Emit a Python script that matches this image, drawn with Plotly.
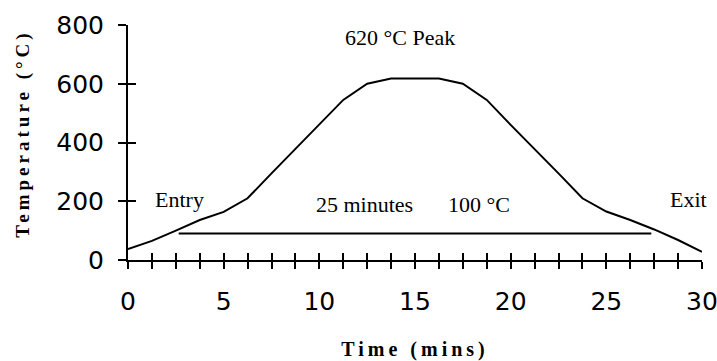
import plotly.graph_objects as go

# ---- data ----
time_min = [0, 1.25, 2.5, 3.75, 5, 6.25, 7.5, 8.75, 10, 11.25, 12.5, 13.75, 15,
            16.25, 17.5, 18.75, 20, 21.25, 22.5, 23.75, 25, 26.25, 27.5, 28.75, 30]
temp_c = [37, 65, 100, 136, 164, 210, 295, 378, 460, 545, 600, 618, 618,
          618, 600, 545, 460, 378, 295, 210, 165, 136, 104, 68, 28]

hold_time = [2.65, 27.35]
hold_temp = [90, 90]

x_tickvals = [0, 1.25, 2.5, 3.75, 5, 6.25, 7.5, 8.75, 10, 11.25, 12.5, 13.75, 15,
              16.25, 17.5, 18.75, 20, 21.25, 22.5, 23.75, 25, 26.25, 27.5, 28.75, 30]
x_ticktext = ["0", "", "", "", "5", "", "", "", "10", "", "", "", "15",
              "", "", "", "20", "", "", "", "25", "", "", "", "30"]
y_tickvals = [0, 200, 400, 600, 800]
y_ticktext = ["0", "200", "400", "600", "800"]

notes_text = ["620 °C Peak", "Entry", "25 minutes", "100 °C", "Exit"]
notes_x = [11.25, 1.3, 9.7, 16.6, 28.2]
notes_y = [758, 207, 188, 188, 205]

x_title = "Time (mins)"
y_title = "Temperature (°C)"

# ---- figure ----
fig = go.Figure()
fig.add_trace(go.Scatter(x=time_min, y=temp_c, mode="lines",
                         line=dict(color="black", width=2), cliponaxis=False,
                         showlegend=False, hoverinfo="skip"))
fig.add_trace(go.Scatter(x=hold_time, y=hold_temp, mode="lines", xaxis="x2", yaxis="y2",
                         line=dict(color="black", width=2), cliponaxis=False,
                         showlegend=False, hoverinfo="skip"))

tickfont = dict(family="DejaVu Sans", size=25, color="black")
titlefont = dict(family="Liberation Serif", size=20, color="black", weight="bold")

common_x = dict(range=[0, 30], tickmode="array", tickvals=x_tickvals, automargin=False,
                showgrid=False, zeroline=False, tickcolor="black", tickwidth=2, ticklen=7)
common_y = dict(range=[0, 800], tickmode="array", tickvals=y_tickvals, automargin=False,
                showgrid=False, zeroline=False, tickcolor="black", tickwidth=2, ticklen=8)

fig.update_layout(
    width=717, height=361,
    margin=dict(l=128, r=15, t=25, b=101, pad=0),
    paper_bgcolor="white", plot_bgcolor="white",
    xaxis=dict(**common_x, ticktext=x_ticktext, ticks="outside",
               showline=True, linecolor="black", linewidth=2,
               tickfont=tickfont, ticklabelstandoff=11, ticklabeloverflow="allow",
               title=dict(text=x_title, font=titlefont, standoff=32)),
    yaxis=dict(**common_y, ticktext=y_ticktext, ticks="outside",
               showline=True, linecolor="black", linewidth=2,
               tickfont=tickfont, ticklabelstandoff=9, ticklabeloverflow="allow",
               title=dict(text=y_title, font=dict(titlefont, size=19), standoff=22)),
    xaxis2=dict(**common_x, overlaying="x", anchor="y2", side="bottom", ticks="inside",
                showticklabels=False, showline=False),
    yaxis2=dict(**common_y, overlaying="y", anchor="x2", side="left", ticks="inside",
                showticklabels=False, showline=False),
)

for t, x, y in zip(notes_text, notes_x, notes_y):
    fig.add_annotation(x=x, y=y, xref="x", yref="y", text=t, showarrow=False,
                       xanchor="left", yanchor="middle",
                       font=dict(family="Liberation Serif", size=22, color="black"))

post = """
document.body.style.margin = '0';
document.body.style.overflow = 'hidden';
var gd = document.querySelector('.plotly-graph-div');
gd.querySelectorAll('.g-xtitle text').forEach(function(t){t.style.letterSpacing='4px';});
gd.querySelectorAll('.g-ytitle text').forEach(function(t){t.style.letterSpacing='4px';});
gd.querySelectorAll('.g-ytitle').forEach(function(g){g.setAttribute('transform','translate(0,-9)');});
"""
fig.write_html("out.html", post_script=post, config={"displayModeBar": False})
